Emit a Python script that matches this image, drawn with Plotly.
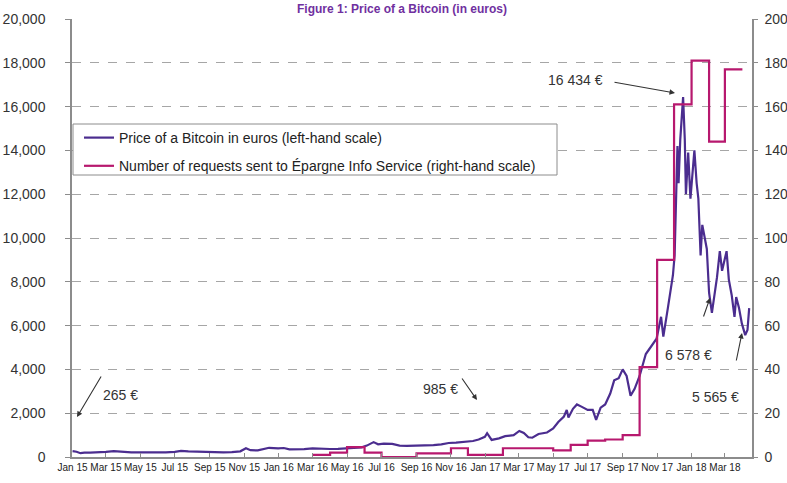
import plotly.graph_objects as go

# ---------------- data ----------------
price_dates = [
    "2015-01-01", "2015-01-08", "2015-01-15", "2015-01-22", "2015-02-01", "2015-02-15",
    "2015-03-01", "2015-03-15", "2015-04-01", "2015-04-15", "2015-05-01", "2015-05-15",
    "2015-06-01", "2015-06-15", "2015-07-01", "2015-07-12", "2015-07-25", "2015-08-10",
    "2015-08-25", "2015-09-10", "2015-09-25", "2015-10-10", "2015-10-25", "2015-11-04",
    "2015-11-12", "2015-11-25", "2015-12-05", "2015-12-15", "2015-12-31",
    "2016-01-10", "2016-01-20", "2016-02-01", "2016-02-15", "2016-03-01", "2016-03-15",
    "2016-04-01", "2016-04-15", "2016-05-01", "2016-05-15", "2016-05-27", "2016-06-05",
    "2016-06-17", "2016-06-25", "2016-07-05", "2016-07-20", "2016-08-02", "2016-08-15",
    "2016-09-01", "2016-09-15", "2016-10-01", "2016-10-15", "2016-10-28", "2016-11-10",
    "2016-11-25", "2016-12-10", "2016-12-20", "2016-12-31",
    "2017-01-04", "2017-01-12", "2017-01-25", "2017-02-05", "2017-02-20", "2017-03-02",
    "2017-03-10", "2017-03-18", "2017-03-25", "2017-04-05", "2017-04-20", "2017-05-01",
    "2017-05-10", "2017-05-20", "2017-05-25", "2017-05-28", "2017-06-05", "2017-06-12",
    "2017-06-20", "2017-07-01", "2017-07-10", "2017-07-16", "2017-07-24", "2017-08-01",
    "2017-08-10", "2017-08-17", "2017-08-25", "2017-09-01", "2017-09-08", "2017-09-15",
    "2017-09-22", "2017-10-01", "2017-10-12", "2017-10-20", "2017-10-31", "2017-11-08",
    "2017-11-12", "2017-11-20", "2017-11-29", "2017-12-02", "2017-12-07", "2017-12-09",
    "2017-12-12", "2017-12-17", "2017-12-20", "2017-12-22", "2017-12-26", "2017-12-30",
    "2018-01-06", "2018-01-10", "2018-01-13", "2018-01-17", "2018-01-20", "2018-01-28",
    "2018-02-01", "2018-02-06", "2018-02-10", "2018-02-15", "2018-02-20", "2018-02-24",
    "2018-03-04", "2018-03-08", "2018-03-13", "2018-03-18", "2018-03-21", "2018-03-26",
    "2018-03-31", "2018-04-06", "2018-04-10", "2018-04-13",
]
price_eur = [
    265, 240, 175, 200, 200, 210,
    230, 270, 230, 210, 215, 210,
    205, 210, 235, 280, 260, 245,
    205, 210, 210, 225, 260, 400,
    310, 300, 360, 420, 395,
    410, 350, 340, 360, 390, 370,
    365, 375, 395, 400, 440, 520,
    680, 580, 610, 600, 520, 510,
    515, 540, 545, 580, 640, 660,
    690, 730, 800, 920,
    1085, 780, 850, 950, 1000, 1190,
    1100, 900, 880, 1050, 1120, 1300,
    1600, 1850, 2150, 1800, 2200, 2400,
    2300, 2150, 2150, 1700, 2250, 2400,
    2900, 3500, 3600, 4000, 3700, 2800,
    3100, 3700, 4700, 5000, 5400, 6400,
    5500, 6800, 8300, 9200, 14200, 12500,
    14500, 16434, 14500, 12000, 13900, 11800,
    14000, 12500, 11800, 9200, 10600, 9500,
    7500, 6578, 7300, 8200, 9400, 8500,
    9400, 8100, 7400, 6400, 7300, 6800,
    6100, 5565, 5800, 6800,
]

request_months = [
    "2016-03-01", "2016-04-01", "2016-05-01", "2016-06-01", "2016-07-01", "2016-08-01",
    "2016-09-01", "2016-10-01", "2016-11-01", "2016-12-01", "2017-01-01", "2017-02-01",
    "2017-03-01", "2017-04-01", "2017-05-01", "2017-06-01", "2017-07-01", "2017-08-01",
    "2017-09-01", "2017-10-01", "2017-11-01", "2017-12-01", "2018-01-01", "2018-02-01",
    "2018-03-01", "2018-04-01",
]
request_counts = [
    1, 2, 4.5, 2, 0, 0,
    1.7, 1.7, 4, 1, 1, 4,
    4, 4, 3, 5.5, 7.5, 8,
    10, 41, 90, 161, 181, 144,
    177, 177,
]

left_ticks = list(range(0, 20001, 2000))
right_ticks = list(range(0, 201, 20))

PRICE_COLOR = "#4B2D8F"
REQ_COLOR = "#B7186E"
GRID = "#a6a6a6"
AXIS = "#8c8c8c"
FONT = "Liberation Sans, Arial, sans-serif"

W, H = 787, 483
L, R, T, B = 72, 752, 19, 457


def px(x):
    return (x - L) / (R - L)


def py(y):
    return (B - y) / (B - T)


fig = go.Figure()
fig.add_trace(go.Scatter(
    x=request_months, y=request_counts, yaxis="y2", mode="lines",
    line=dict(color=REQ_COLOR, width=2.2, shape="hv"),
    name="Number of requests sent to Épargne Info Service (right-hand scale)",
    legendgroup="b", legendrank=2,
))
fig.add_trace(go.Scatter(
    x=price_dates, y=price_eur, mode="lines",
    line=dict(color=PRICE_COLOR, width=2.2),
    name="Price of a Bitcoin in euros (left-hand scale)",
    legendgroup="a", legendrank=1,
))

annotations = []
# value labels
for txt, (cx, cy) in [("265 €", (120, 395)), ("985 €", (440, 389)),
                      ("16 434 €", (575, 80)), ("6 578 €", (688, 355)),
                      ("5 565 €", (715, 397))]:
    annotations.append(dict(
        text=txt, x=px(cx), y=py(cy), xref="paper", yref="paper",
        showarrow=False, xanchor="center", yanchor="middle",
        font=dict(family=FONT, size=14, color="#333333"),
    ))
# arrows (head, tail)
for (hx, hy), (tx, ty) in [((77, 417), (102, 375)), ((477, 400), (461, 377)),
                           ((675, 93), (613, 82)), ((710, 298), (703, 318)),
                           ((742, 333), (736, 362))]:
    annotations.append(dict(
        text="", x=px(hx), y=py(hy), xref="paper", yref="paper",
        ax=tx - hx, ay=ty - hy, showarrow=True, arrowhead=2, arrowsize=1,
        arrowwidth=1.1, arrowcolor="#333333", standoff=0, startstandoff=0,
    ))
# title at the top (small so it fits above the plot)
annotations.append(dict(
    text="<b>Figure 1: Price of a Bitcoin (in euros)</b>", x=px(402), y=py(0),
    xref="paper", yref="paper", showarrow=False, xanchor="center", yanchor="top",
    font=dict(family=FONT, size=12, color="#7030A0"),
))

fig.update_layout(
    width=W, height=H,
    margin=dict(l=L, r=W - R, t=T, b=H - B, pad=0, autoexpand=False),
    paper_bgcolor="white", plot_bgcolor="white",
    showlegend=True,
    legend=dict(
        x=px(79), y=py(122), xanchor="left", yanchor="top",
        bgcolor="rgba(0,0,0,0)", borderwidth=0, tracegroupgap=7,
        font=dict(family=FONT, size=14, color="#222222"),
        itemwidth=30,
    ),
    xaxis=dict(
        type="date", range=["2014-12-31", "2018-04-18"],
        tick0="2015-01-01", dtick="M2", tickformat="%b %y", tickangle=0,
        showgrid=False, showline=True, linecolor=AXIS, linewidth=1.5,
        ticks="inside", ticklen=4, tickcolor=AXIS,
        tickfont=dict(family=FONT, size=10, color="#222222"),
        zeroline=False, automargin=False,
    ),
    yaxis=dict(
        range=[0, 20000], tickvals=left_ticks, tickformat=",d",
        showgrid=True, gridcolor=GRID, griddash="dash", gridwidth=1,
        showline=True, linecolor=AXIS, linewidth=1.5,
        ticks="outside", ticklen=5, tickcolor=AXIS, ticklabelstandoff=17,
        tickfont=dict(family=FONT, size=14, color="#333333"),
        zeroline=False, automargin=False,
    ),
    yaxis2=dict(
        range=[0, 200], tickvals=right_ticks, overlaying="y", side="right",
        showgrid=False, showline=True, linecolor=AXIS, linewidth=1.5,
        ticks="outside", ticklen=4, tickcolor=AXIS, ticklabelstandoff=4,
        tickfont=dict(family=FONT, size=14, color="#333333"),
        zeroline=False, automargin=False,
    ),
    annotations=annotations,
    shapes=[dict(
        type="rect", xref="paper", yref="paper",
        x0=px(73), x1=px(557), y0=py(175), y1=py(124),
        line=dict(color="#8c8c8c", width=1), fillcolor="white", layer="above",
    )],
)

fig.write_html("out.html", config={"displayModeBar": False},
               post_script="document.body.style.margin='0';")
